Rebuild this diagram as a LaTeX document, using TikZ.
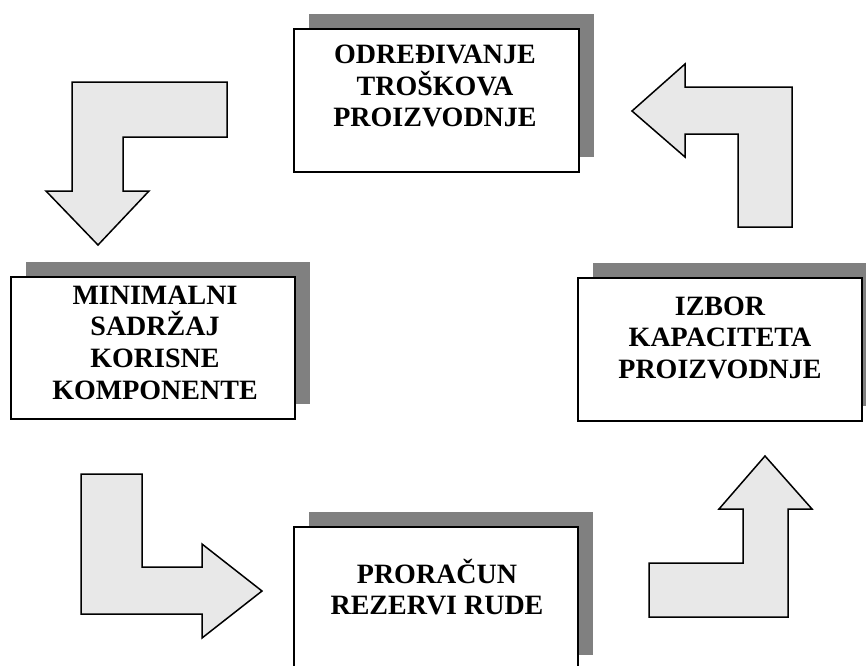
\documentclass[tikz,border=0pt]{standalone}
\usepackage{fontspec}
\setmainfont{Liberation Serif}
\usetikzlibrary{shadows}
\definecolor{shadowgray}{HTML}{808080}
\definecolor{arrowfill}{HTML}{E8E8E8}
\tikzset{
  box/.style={draw=black, line width=2pt, fill=white, rectangle, inner sep=0pt,
    general shadow={fill=shadowgray, shadow xshift=15pt, shadow yshift=15pt}},
  lbl/.style={anchor=north, inner sep=0pt, align=center,
    font=\fontsize{28}{31.7}\selectfont\bfseries},
  bentarrow/.style={draw=black, line width=1.5pt, fill=arrowfill, line join=miter}
}
\newcommand{\firstline}{\rule{0pt}{26pt}}
\begin{document}
\begin{tikzpicture}[x=1pt, y=-1pt]
\useasboundingbox (0,0) rectangle (866,665);
\clip (0,0) rectangle (866,665);
% boxes
\node[box, minimum width=285pt, minimum height=143pt] (top) at (436.5,100.5) {};
\node[box, minimum width=284pt, minimum height=142pt] (left) at (153,348) {};
\node[box, minimum width=284pt, minimum height=143pt] (right) at (720,349.5) {};
\node[box, minimum width=284pt, minimum height=143pt] (bottom) at (436,598.5) {};
% labels
\node[lbl] (ttop) at (435,37.3) {\firstline ODREĐIVANJE\\TROŠKOVA\\PROIZVODNJE};
\node[lbl] (tleft) at (155,278) {\firstline MINIMALNI\\SADRŽAJ\\KORISNE\\KOMPONENTE};
\node[lbl] (tright) at (720,289) {\firstline IZBOR\\KAPACITETA\\PROIZVODNJE};
\node[lbl] (tbottom) at (437,557) {\firstline PRORAČUN\\REZERVI RUDE};
% bent arrows
\draw[bentarrow] (227,82) -- (72,82) -- (72,191) -- (46,191) -- (98,245) -- (149,191) -- (123,191) -- (123,137) -- (227,137) -- cycle;
\draw[bentarrow] (738,227) -- (738,134) -- (685,134) -- (685,157) -- (632,111) -- (685,64) -- (685,87) -- (792,87) -- (792,227) -- cycle;
\draw[bentarrow] (649,617) -- (649,563) -- (743,563) -- (743,509) -- (719,509) -- (765,456) -- (812,509) -- (788,509) -- (788,617) -- cycle;
\draw[bentarrow] (81,474) -- (142,474) -- (142,567) -- (202,567) -- (202,544) -- (262,591) -- (202,638) -- (202,614) -- (81,614) -- cycle;
\end{tikzpicture}
\end{document}
